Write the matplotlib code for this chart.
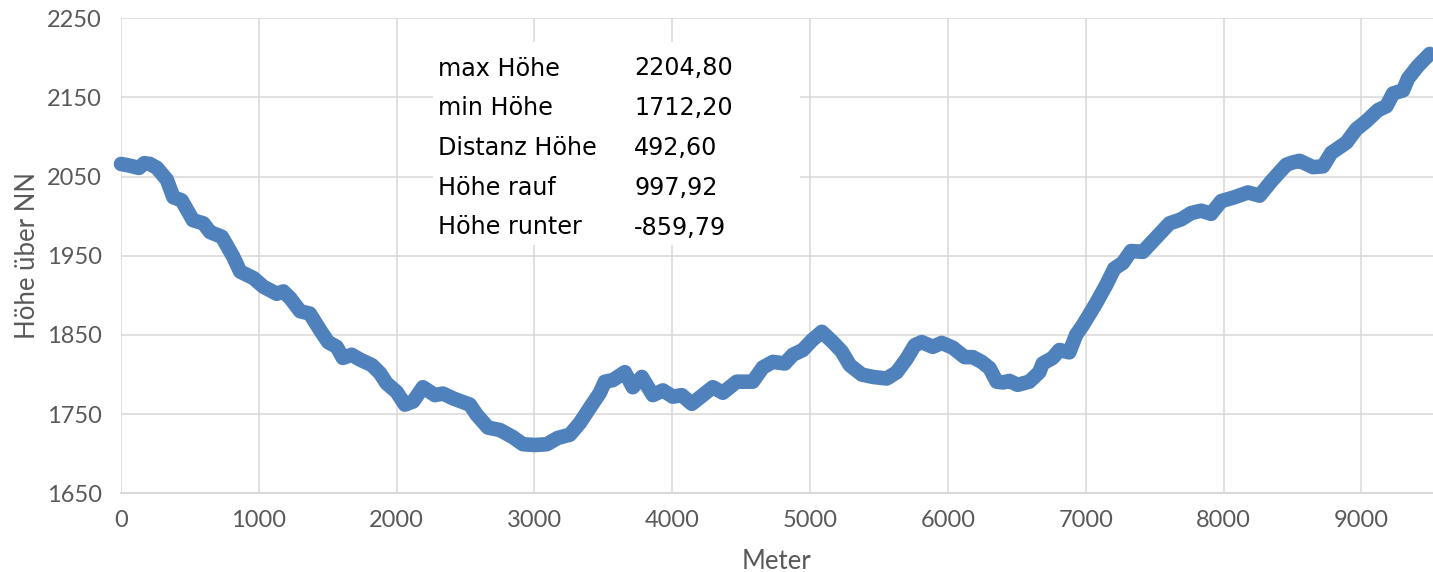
import matplotlib
matplotlib.use("Agg")
import matplotlib.pyplot as plt
from matplotlib.patches import Rectangle

# ---- data ----
meter = [0, 60, 130, 170, 210, 261, 333, 380, 440, 522, 598, 646, 732, 814, 865, 960,
         1033, 1130, 1178, 1230, 1300, 1370, 1445, 1503, 1565, 1610, 1674, 1733, 1820,
         1878, 1927, 2000, 2060, 2120, 2191, 2278, 2336, 2408, 2531, 2582, 2663, 2749,
         2843, 2916, 3003, 3090, 3170, 3257, 3330, 3402, 3475, 3511, 3569, 3656, 3714,
         3779, 3859, 3932, 4004, 4069, 4142, 4222, 4294, 4367, 4468, 4584, 4657, 4730,
         4817, 4875, 4947, 5012, 5085, 5165, 5230, 5288, 5375, 5455, 5556, 5629, 5701,
         5759, 5810, 5890, 5955, 6035, 6122, 6180, 6245, 6303, 6354, 6400, 6446, 6506,
         6591, 6663, 6688, 6760, 6809, 6881, 6930, 6978, 7075, 7148, 7208, 7269, 7329,
         7414, 7511, 7608, 7692, 7765, 7838, 7910, 7983, 8080, 8177, 8262, 8346, 8455,
         8504, 8552, 8649, 8722, 8782, 8891, 8964, 9036, 9121, 9182, 9230, 9303, 9339,
         9412, 9496]
hoehe = [2066, 2064, 2061, 2067, 2066, 2061, 2046, 2024, 2020, 1995, 1991, 1980, 1974,
         1949, 1930, 1922, 1911, 1902, 1905, 1896, 1880, 1877, 1856, 1841, 1835, 1821,
         1825, 1819, 1812, 1802, 1789, 1778, 1762, 1766, 1784, 1774, 1776, 1770, 1762,
         1749, 1733, 1730, 1721, 1712, 1711, 1712, 1720, 1724, 1739, 1758, 1777, 1791,
         1793, 1803, 1784, 1797, 1774, 1780, 1772, 1774, 1763, 1774, 1784, 1777, 1791,
         1791, 1809, 1816, 1814, 1825, 1831, 1843, 1854, 1841, 1829, 1812, 1800, 1797,
         1795, 1803, 1820, 1837, 1841, 1835, 1840, 1834, 1822, 1822, 1816, 1808, 1791,
         1790, 1792, 1787, 1791, 1803, 1814, 1821, 1831, 1828, 1850, 1862, 1890, 1913,
         1934, 1941, 1956, 1955, 1973, 1991, 1996, 2004, 2007, 2003, 2019, 2024, 2030,
         2026, 2044, 2065, 2068, 2070, 2062, 2063, 2080, 2093, 2110, 2120, 2134, 2139,
         2155, 2159, 2174, 2190, 2205]

x_ticks = [0, 1000, 2000, 3000, 4000, 5000, 6000, 7000, 8000, 9000]
y_ticks = [1650, 1750, 1850, 1950, 2050, 2150, 2250]

stat_labels = ["max Höhe", "min Höhe", "Distanz Höhe", "Höhe rauf", "Höhe runter"]
stat_values = ["2204,80", "1712,20", "492,60", "997,92", "-859,79"]

x_label = "Meter"
y_label = "Höhe über NN"

# ---- figure ----
W, H = 1433, 572
fig = plt.figure(figsize=(W / 100, H / 100), dpi=100)
ax = fig.add_axes([121 / W, 1 - 493.3 / H, 1 - 121 / W, (493.3 - 18.3) / H])

grid_col = "#D9D9D9"
text_col = "#595959"
line_col = "#4F81BD"

ax.plot(meter, hoehe, color=line_col, lw=10.5, solid_capstyle="round",
        solid_joinstyle="round", clip_on=False, zorder=3)

ax.set_xlim(0, 9520)
ax.set_ylim(1650, 2250)
ax.set_xticks(x_ticks)
ax.set_yticks(y_ticks)
ax.grid(True, color=grid_col, lw=1.1)
ax.set_axisbelow(True)
for s in ["top", "right", "left"]:
    ax.spines[s].set_visible(False)
ax.spines["bottom"].set_color(grid_col)
ax.spines["bottom"].set_linewidth(1.5)

ax.tick_params(axis="both", length=0, labelsize=17, labelcolor=text_col)
ax.tick_params(axis="y", pad=14)
ax.tick_params(axis="x", pad=12)
for lab in ax.get_xticklabels() + ax.get_yticklabels():
    lab.set_family("Lato")

label_font = dict(family="Lato", size=18.5, color=text_col)
ax.set_xlabel(x_label, fontdict=label_font, labelpad=13)
ax.set_ylabel(y_label, fontdict=label_font, labelpad=5)

# stats box
fig.patches.append(Rectangle((433 / W, 1 - 245 / H), (800 - 433) / W, (245 - 42) / H,
                             transform=fig.transFigure, facecolor="white",
                             edgecolor="none", zorder=5))
for i, (lab, val) in enumerate(zip(stat_labels, stat_values)):
    yb = 75.5 + i * 39.75
    fig.text(438 / W, 1 - yb / H, lab, family="DejaVu Sans", size=17.2,
             color="black", va="baseline", ha="left", zorder=6)
    fig.text(634 / W, 1 - yb / H, val, family="DejaVu Sans", size=17.2,
             color="black", va="baseline", ha="left", zorder=6)

fig.savefig("out.png", dpi=100)
